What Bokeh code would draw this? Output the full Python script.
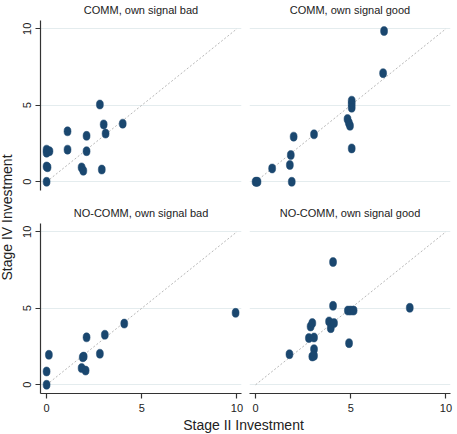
import math
from bokeh.plotting import figure
from bokeh.layouts import row, column
from bokeh.models import Range1d, FixedTicker
from bokeh.core.properties import value
from bokeh.embed import file_html
from bokeh.resources import INLINE

# ---- data ----
titles = ["COMM, own signal bad", "COMM, own signal good",
          "NO-COMM, own signal bad", "NO-COMM, own signal good"]

comm_bad_x = [0, 0, 0.15, 0, 0.05, 0, 1.1, 1.1, 1.84, 1.93, 2.1, 2.1, 2.8, 2.9, 3.0, 3.1, 4.0]
comm_bad_y = [2.1, 1.9, 2.0, 1.0, 0.95, 0, 3.3, 2.1, 0.94, 0.72, 3.0, 2.0, 5.05, 0.8, 3.75, 3.15, 3.8]

comm_good_x = [0, 0.05, 0.1, 0.87, 1.8, 1.85, 1.9, 2.0, 3.07, 4.83, 4.9, 4.96, 5.05, 5.05, 5.05, 5.05, 6.7, 6.75]
comm_good_y = [0, 0, 0, 0.87, 1.1, 1.75, 0, 2.95, 3.1, 4.1, 3.85, 3.66, 5.3, 5.08, 4.84, 2.18, 7.1, 9.85]

nocomm_bad_x = [0, 0, 0.12, 1.84, 1.9, 1.95, 2.05, 2.1, 2.8, 3.06, 4.08, 9.93]
nocomm_bad_y = [0, 0.87, 1.96, 1.09, 1.8, 1.84, 0.93, 3.1, 2.03, 3.27, 4.0, 4.7]

nocomm_good_x = [1.78, 2.8, 2.89, 2.98, 2.98, 3.07, 3.07, 3.07, 3.86, 3.95, 4.07, 4.07, 4.12, 4.85, 4.91, 5.0, 5.15, 8.1]
nocomm_good_y = [2.0, 3.05, 3.81, 4.03, 1.85, 3.09, 2.33, 1.9, 4.14, 3.7, 8.02, 5.16, 4.03, 4.85, 2.72, 4.85, 4.85, 5.03]

diag = [0, 10]
ticks = [0, 5, 10]
tick_labels = {0: "0", 5: "5", 10: "10"}

x_title = "Stage II Investment"
y_title = "Stage IV Investment"

FONT = "Liberation Sans"
MARK = "#1a476f"
GRID = "#e4ecee"
AXIS = "#333333"


def panel(title, xs, ys, left_axis, bottom_axis, mbl, mbr, mbt, mbb):
    fw, fh = 201, 170
    p = figure(width=mbl + fw + mbr, height=mbt + fh + mbb,
               x_range=Range1d(-0.32, 10.24), y_range=Range1d(-0.57, 10.54),
               output_backend="svg", toolbar_location=None,
               x_axis_location="below" if bottom_axis else None,
               y_axis_location="left" if left_axis else None,
               min_border_left=mbl, min_border_right=mbr,
               min_border_top=mbt, min_border_bottom=mbb)
    p.outline_line_color = None
    p.title.text = title
    p.title.align = "center"
    p.title.vertical_align = "top"
    p.title.text_font = FONT
    p.title.text_font_size = "11px"
    p.title.text_font_style = "normal"
    p.title.text_color = "#222222"
    p.title.standoff = 6
    p.xgrid.visible = False
    p.ygrid.ticker = FixedTicker(ticks=ticks)
    p.ygrid.grid_line_color = GRID
    p.ygrid.grid_line_width = 1
    for ax in p.axis:
        ax.ticker = FixedTicker(ticks=ticks)
        ax.major_label_overrides = tick_labels
        ax.minor_tick_line_color = None
        ax.major_tick_in = 0
        ax.major_tick_out = 5
        ax.axis_line_color = AXIS
        ax.axis_line_width = 1.2
        ax.major_tick_line_color = AXIS
        ax.major_tick_line_width = 1.2
        ax.major_label_text_font = FONT
        ax.major_label_text_font_size = "11px"
        ax.major_label_text_color = "#222222"
        ax.major_label_standoff = 5
    if left_axis:
        p.yaxis.major_label_orientation = "vertical"
        p.yaxis.major_label_standoff = 4
    p.line(diag, diag, line_color="#b8b8b8", line_width=1, line_dash="2 2")
    p.ellipse(xs, ys, width=7, height=9, width_units="screen", height_units="screen",
              fill_color=MARK, line_color=MARK, line_width=0.5)
    return p


tl = panel(titles[0], comm_bad_x, comm_bad_y, True, False, 23, 4, 20, 3)
tr = panel(titles[1], comm_good_x, comm_good_y, False, False, 4, 7, 20, 3)
bl = panel(titles[2], nocomm_bad_x, nocomm_bad_y, True, True, 23, 4, 30, 24)
br = panel(titles[3], nocomm_good_x, nocomm_good_y, False, True, 4, 7, 30, 24)

# axis titles
ylab = figure(width=17, height=434, x_range=Range1d(0, 1), y_range=Range1d(0, 1),
              output_backend="svg", toolbar_location=None,
              x_axis_location=None, y_axis_location=None, min_border=0)
ylab.outline_line_color = None
ylab.grid.visible = False
ylab.text(x=[6.5 / 17], y=[0.5], text=[y_title], angle=math.pi / 2,
          text_align="center", text_baseline="middle",
          text_font=value(FONT), text_font_size="14px", text_color="#222222")

xlab = figure(width=440, height=17, x_range=Range1d(0, 1), y_range=Range1d(0, 1),
              output_backend="svg", toolbar_location=None,
              x_axis_location=None, y_axis_location=None, min_border=0)
xlab.outline_line_color = None
xlab.grid.visible = False
xlab.text(x=[226 / 440], y=[0.55], text=[x_title],
          text_align="center", text_baseline="middle",
          text_font=value(FONT), text_font_size="14px", text_color="#222222")

layout = row(ylab, column(row(tl, tr), row(bl, br), xlab))

open("out.html", "w").write(file_html(layout, INLINE))
